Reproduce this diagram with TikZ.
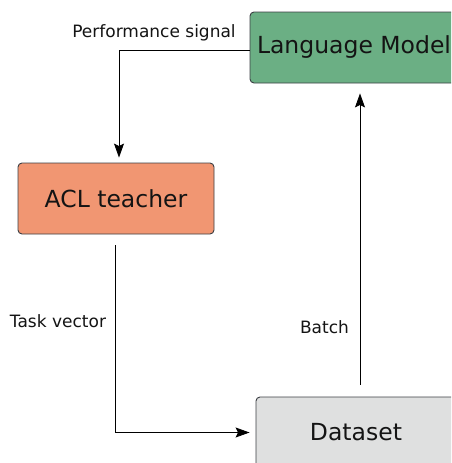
\documentclass[tikz,border=0pt]{standalone}
\usepackage{fontspec}
\setmainfont{DejaVu Sans}
\usetikzlibrary{arrows.meta}

\definecolor{lmgreen}{HTML}{6BAF84}
\definecolor{aclorange}{HTML}{F19672}
\definecolor{dsgray}{HTML}{DFE0E0}
\definecolor{edgegray}{HTML}{3C3F44}

\tikzset{
  box/.style={draw=edgegray, line width=0.9pt, rounded corners=4pt,
    minimum height=71pt, inner sep=0pt, text=black!92,
    font=\fontsize{23.5}{28}\selectfont},
  lbl/.style={anchor=base, inner sep=0pt, text=black!92,
    font=\fontsize{17}{20}\selectfont},
  arr/.style={draw=black, line width=0.8pt,
    -{Stealth[length=14pt, width=10pt, inset=2.5pt]}},
}

\begin{document}
\begin{tikzpicture}[x=1pt, y=-1pt]
  \clip (0,0) rectangle (451,463);
  \fill[white] (0,0) rectangle (451,463);

  % boxes
  \node[box, fill=lmgreen,   minimum width=208pt] (lm)  at (354,47.5)  {Language Model};
  \node[box, fill=aclorange, minimum width=196pt] (acl) at (116,198.5) {ACL teacher};
  \node[box, fill=dsgray,    minimum width=200pt] (ds)  at (356,432.5) {Dataset};

  % connectors
  \draw[arr, shorten >=5pt] ([yshift=-2.5pt]lm.west) -| ([xshift=3pt]acl.north);
  \draw[arr, shorten <=11pt, shorten >=6pt] ([xshift=-1pt]acl.south) |- (ds.west);
  \draw[arr, shorten <=12pt, shorten >=10pt] ([xshift=4pt]ds.north) -- ([xshift=4pt]ds.north |- lm.south);

  % labels
  \node[lbl] (lps) at (154,37)  {Performance signal};
  \node[lbl] (ltv) at (58,327)  {Task vector};
  \node[lbl] (lb)  at (324.5,333) {Batch};
\end{tikzpicture}
\end{document}
